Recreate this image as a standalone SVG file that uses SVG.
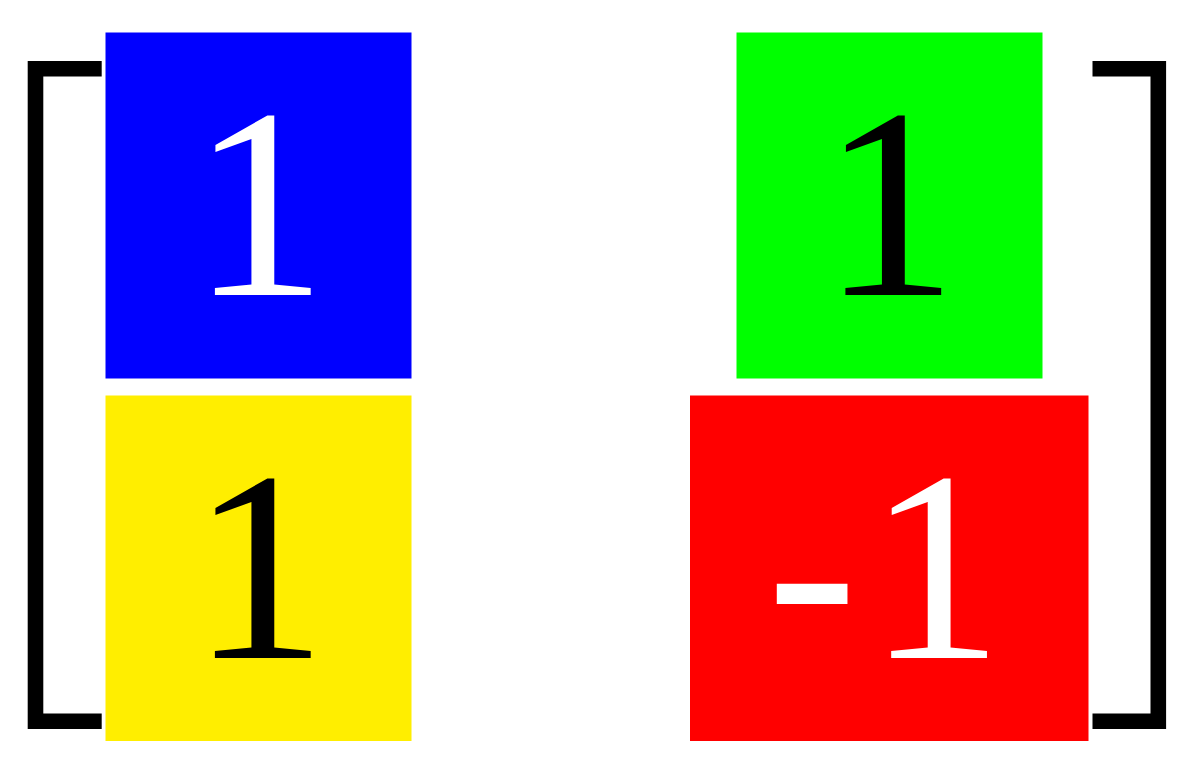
<svg xmlns="http://www.w3.org/2000/svg" width="1199" height="766" viewBox="0 0 1199 766">
<style>
.num{font-family:"Liberation Serif","Times New Roman",serif;font-size:272px;text-anchor:middle}
.br{fill:none;stroke:#000;stroke-width:15.6;stroke-linejoin:miter;stroke-linecap:butt}
</style>
<rect width="1199" height="766" fill="#fff"/>
<g id="brackets">
<path class="br" d="M101.7,68.8H35.5V721.2H101.7"/>
<path class="br" d="M1092.5,68.8H1158.3V721.2H1092.5"/>
</g>
<g id="cell-blue">
<rect x="105.5" y="32.5" width="306" height="346" fill="#0000ff"/>
<text class="num" x="259" y="295" fill="#fff">1</text>
</g>
<g id="cell-green">
<rect x="736.5" y="32.5" width="306" height="346" fill="#00ff00"/>
<text class="num" x="889.5" y="295" fill="#000">1</text>
</g>
<g id="cell-yellow">
<rect x="105.5" y="395.5" width="306" height="345.5" fill="#ffee00"/>
<text class="num" x="259" y="658" fill="#000">1</text>
</g>
<g id="cell-red">
<rect x="690" y="395.5" width="398.5" height="345.5" fill="#ff0000"/>
<text class="num" x="885" y="658" fill="#fff">-<tspan dx="10">1</tspan></text>
</g>
</svg>
